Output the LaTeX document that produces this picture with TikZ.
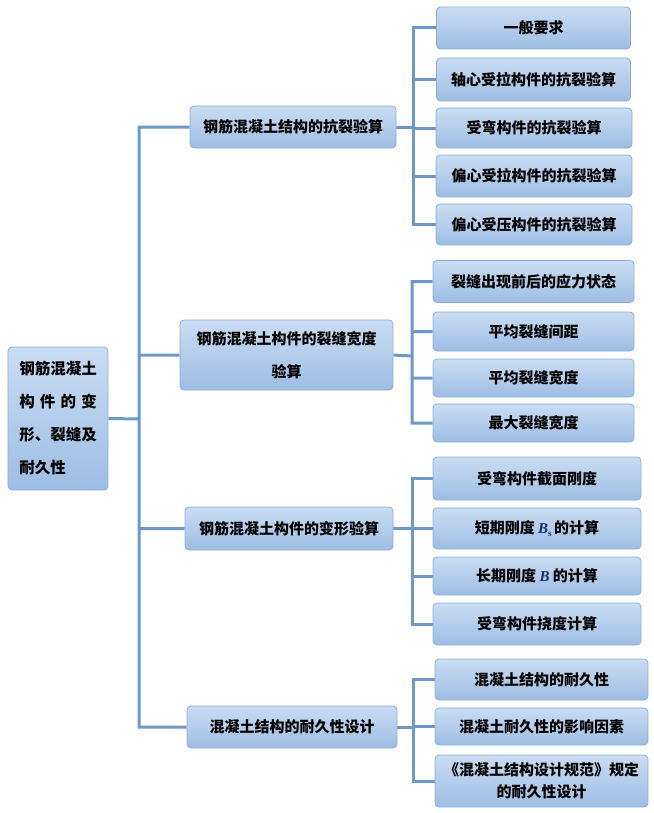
\documentclass[tikz,border=0pt]{standalone}
\usepackage{fontspec}
\setmainfont{Noto Sans CJK SC}[BoldFont={* Black}]
\newfontfamily\latinserif{Liberation Serif}
\usepackage{tikz}
\usetikzlibrary{backgrounds,calc}

\definecolor{boxtop}{HTML}{C9DDF3}
\definecolor{boxbottom}{HTML}{9EBDE3}
\definecolor{boxline}{HTML}{8CAED6}
\definecolor{linkblue}{HTML}{6E98C9}
\definecolor{symbblue}{HTML}{1C2D6A}

\newcommand{\symbB}{{\latinserif\bfseries\itshape\color{symbblue}B}}
\newcommand{\symbBs}{\symbB\raisebox{-0.3ex}{\latinserif\bfseries\color{symbblue}\fontsize{9bp}{9bp}\selectfont s}\,}

\begin{document}
\begin{tikzpicture}[x=1bp,y=-1bp]
    % `topic' is used for every box of the chart.
    % `link' is used for the connecting lines.
    \tikzstyle{topic} = [draw=boxline,line width=0.8bp,rounded corners=4bp,
      top color=boxtop,bottom color=boxbottom,inner sep=0pt,align=center,
      font=\fontsize{15bp}{22bp}\selectfont\bfseries]
    \tikzstyle{link} = [draw=linkblue,line width=3bp]
    \useasboundingbox (0,0) rectangle (654,813);
    %
    % Root.
    \node[topic,minimum width=100bp,minimum height=143bp,align=left,
      font=\fontsize{15.5bp}{33bp}\selectfont\bfseries] (root) at (58,418.5)
      {钢筋混凝土\\\makebox[5em][s]{构\hfill 件\hfill 的\hfill 变}\\形、裂缝及\\耐久性};
    %
    % First level.
    \node[topic,minimum width=206bp,minimum height=42bp] (ra) at (293,127) {钢筋混凝土结构的抗裂验算};
    \node[topic,minimum width=213bp,minimum height=70bp,
      font=\fontsize{15bp}{33bp}\selectfont\bfseries] (rb) at (286.5,355) {钢筋混凝土构件的裂缝宽度\\验算};
    \node[topic,minimum width=208bp,minimum height=43bp] (rc) at (289,528.5) {钢筋混凝土构件的变形验算};
    \node[topic,minimum width=210bp,minimum height=42bp] (rd) at (292,727) {混凝土结构的耐久性设计};
    %
    % Second level, crack resistance.
    \node[topic,minimum width=194bp,minimum height=42bp] (a1) at (533.5,28) {一般要求};
    \node[topic,minimum width=194bp,minimum height=43bp] (a2) at (533.5,79.5) {轴心受拉构件的抗裂验算};
    \node[topic,minimum width=196bp,minimum height=40bp] (a3) at (534,128) {受弯构件的抗裂验算};
    \node[topic,minimum width=196bp,minimum height=42bp] (a4) at (534,176) {偏心受拉构件的抗裂验算};
    \node[topic,minimum width=196bp,minimum height=41bp] (a5) at (534,224.5) {偏心受压构件的抗裂验算};
    %
    % Second level, crack width.
    \node[topic,minimum width=201bp,minimum height=42bp] (b1) at (533.5,281.5) {裂缝出现前后的应力状态};
    \node[topic,minimum width=201bp,minimum height=39bp] (b2) at (533.5,331.5) {平均裂缝间距};
    \node[topic,minimum width=201bp,minimum height=38bp] (b3) at (533.5,378) {平均裂缝宽度};
    \node[topic,minimum width=201bp,minimum height=38bp] (b4) at (533.5,423) {最大裂缝宽度};
    %
    % Second level, deformation.
    \node[topic,minimum width=208bp,minimum height=43bp] (c1) at (537,478.5) {受弯构件截面刚度};
    \node[topic,minimum width=208bp,minimum height=41bp] (c2) at (537,528.5) {短期刚度 \symbBs 的计算};
    \node[topic,minimum width=208bp,minimum height=38bp] (c3) at (537,576) {长期刚度 \symbB\ 的计算};
    \node[topic,minimum width=208bp,minimum height=42bp] (c4) at (537,624) {受弯构件挠度计算};
    %
    % Second level, durability.
    \node[topic,minimum width=213bp,minimum height=41bp] (d1) at (541.5,679.5) {混凝土结构的耐久性};
    \node[topic,minimum width=213bp,minimum height=37bp] (d2) at (541.5,726.5) {混凝土耐久性的影响因素};
    \node[topic,minimum width=213bp,minimum height=52bp] (d3) at (541.5,781) {《混凝土结构设计规范》规定\\的耐久性设计};
    %
    % Branch points.
    \coordinate (trunk) at (139,419);
    \coordinate (fa) at (413,127);
    \coordinate (fb) at (412,356);
    \coordinate (fc) at (412,528.5);
    \coordinate (fd) at (413,727);
    %
    \begin{pgfonlayer}{background}
        % Draw lines.
        \draw[link] (root.east) -- (trunk)  (ra.west) -| (trunk)  (rb.west) -| (trunk)
                    (rc.west) -| (trunk)  (rd.west) -| (trunk);
        \draw[link] (ra.east) -- (fa)  (fa) |- (a1.west)  (fa) |- (a2.west)
                    (fa) |- (a3.west)  (fa) |- (a4.west)  (fa) |- (a5.west);
        \draw[link] (rb.east) -- (fb)  (fb) |- (b1.west)  (fb) |- (b2.west)
                    (fb) |- (b3.west)  (fb) |- (b4.west);
        \draw[link] (rc.east) -- (fc)  (fc) |- (c1.west)  (fc) |- (c2.west)
                    (fc) |- (c3.west)  (fc) |- (c4.west);
        \draw[link] (rd.east) -- (fd)  (fd) |- (d1.west)  (fd) |- (d2.west)
                    (fd) |- (d3.west);
    \end{pgfonlayer}
\end{tikzpicture}
\end{document}
